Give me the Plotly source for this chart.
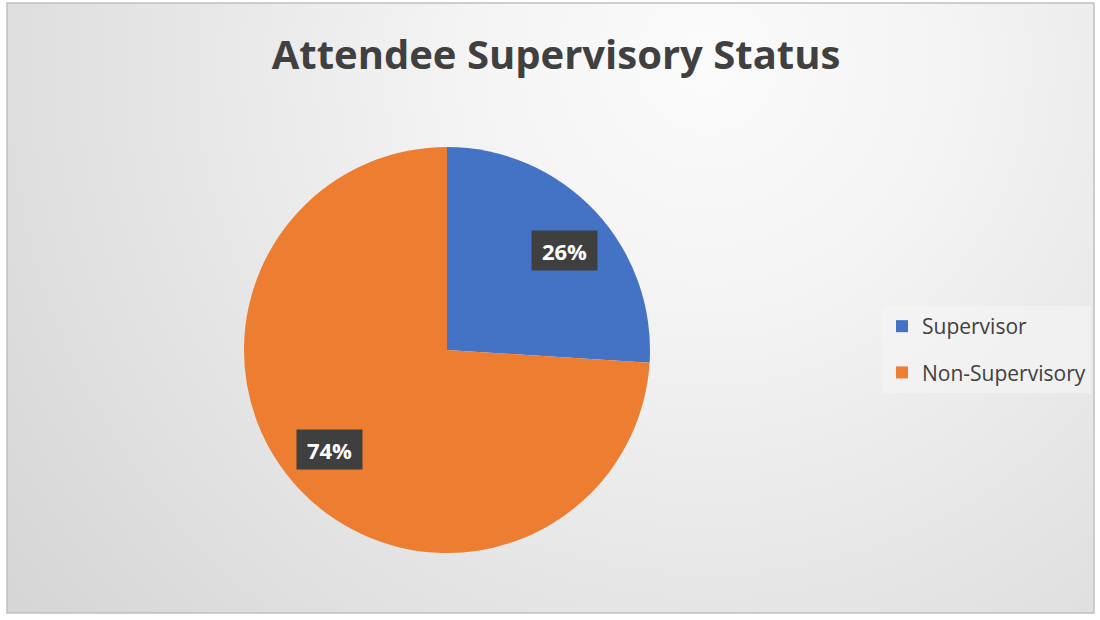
import base64
import math
import plotly.graph_objects as go

# ---- data ----
labels = ["Supervisor", "Non-Supervisory"]
values = [26, 74]
colors = ["#4472C4", "#ED7D31"]
title_text = "Attendee Supervisory Status"

W, H = 1100, 620

# pie geometry (pixels)
cx_px, cy_px, R = 447, 350, 203
dom_x = [(cx_px - R) / W, (cx_px + R) / W]
dom_y = [(H - cy_px - R) / H, (H - cy_px + R) / H]

fig = go.Figure()

fig.add_trace(go.Pie(
    labels=labels, values=values, sort=False, direction="clockwise", rotation=0,
    marker=dict(colors=colors, line=dict(width=0)),
    textinfo="none", hoverinfo="label+percent", showlegend=False,
    domain=dict(x=dom_x, y=dom_y),
))

# legend entries as dummy traces (for spacing control)
for i, (lab, col) in enumerate(zip(labels, colors)):
    fig.add_trace(go.Scatter(
        x=[None], y=[None], mode="markers", name=lab, legendgroup=f"g{i}",
        marker=dict(symbol="square", size=12, color=col),
    ))

# percentage labels placed near slice mid-angles
total = sum(values)
cum = 0
annotations = []
for v in values:
    mid = (cum + v / 2) / total * 2 * math.pi + math.radians(3)
    cum += v
    r = 0.76 * R
    x = (cx_px + r * math.sin(mid)) / W
    y = (H - cy_px + r * math.cos(mid)) / H
    annotations.append(dict(
        x=x, y=y, xref="paper", yref="paper", showarrow=False,
        text=f"<b>{round(v / total * 100)}%</b>",
        font=dict(family="Open Sans", size=22, color="white"),
        bgcolor="#3f3f3f", borderpad=4, width=57, height=31,
        xanchor="center", yanchor="middle",
    ))

# background gradient
svg = (
    "<svg xmlns='http://www.w3.org/2000/svg' width='1087' height='610'>"
    "<defs><radialGradient id='g' gradientUnits='userSpaceOnUse' cx='700' cy='60' r='950'>"
    "<stop offset='0' stop-color='#fbfbfb'/><stop offset='0.25' stop-color='#f4f4f4'/>"
    "<stop offset='1' stop-color='#d2d2d2'/></radialGradient></defs>"
    "<rect x='0' y='0' width='1087' height='610' fill='url(#g)'/></svg>"
)
src = "data:image/svg+xml;base64," + base64.b64encode(svg.encode()).decode()

x0, y0, x1, y1 = 7, 3, 1094, 613
fig.update_layout(
    width=W, height=H,
    margin=dict(l=0, r=0, t=0, b=0),
    paper_bgcolor="white", plot_bgcolor="rgba(0,0,0,0)",
    xaxis=dict(visible=False), yaxis=dict(visible=False),
    title=dict(text=f"<b>{title_text}</b>", x=556 / W, y=(H - 55) / H,
               xanchor="center", yanchor="middle",
               font=dict(family="Open Sans", size=40, color="#404040")),
    legend=dict(x=882 / W, y=(H - 306) / H, xanchor="left", yanchor="top",
                bgcolor="rgba(245,245,245,0.6)", borderwidth=0,
                tracegroupgap=16, traceorder="grouped",
                font=dict(family="Open Sans", size=21, color="#404040"),
                itemclick=False, itemdoubleclick=False),
    annotations=annotations,
    images=[dict(source=src, xref="paper", yref="paper", x=x0 / W, y=(H - y0) / H,
                 sizex=(x1 - x0) / W, sizey=(y1 - y0) / H, xanchor="left", yanchor="top",
                 sizing="stretch", layer="below")],
    shapes=[dict(type="rect", xref="paper", yref="paper", x0=x0 / W, x1=x1 / W,
                 y0=(H - y1) / H, y1=(H - y0) / H, line=dict(color="#c0c0c0", width=1.5))],
)

fig.write_html("out.html", config={"displayModeBar": False},
               post_script="document.body.style.margin='0px';")
